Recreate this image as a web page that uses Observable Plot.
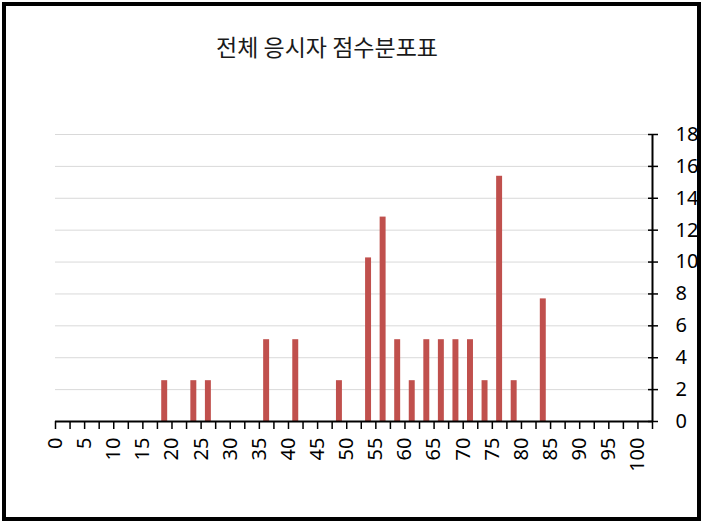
<!DOCTYPE html>
<html>
<head>
<meta charset="utf-8">
<script src="https://cdn.jsdelivr.net/npm/d3@7"></script>
<script src="https://cdn.jsdelivr.net/npm/@observablehq/plot@0.6"></script>
<style>
  html, body { margin: 0; padding: 0; background: #fff; }
  #wrap { position: relative; width: 703px; height: 524px; overflow: hidden; background: #fff; }
  #frame { position: absolute; left: 2px; top: 2px; width: 691px; height: 511px; border: 4px solid #000; }
  #title { position: absolute; left: 0; top: 35px; width: 654px; text-align: center;
           font-family: "Noto Sans CJK KR", sans-serif; font-size: 23px; line-height: 1; color: #1a1a1a; }
  #chart { position: absolute; left: 0; top: 0; }
</style>
</head>
<body>
<div id="wrap">
  <div id="frame"></div>
  <div id="title"></div>
  <div id="chart"></div>
</div>
<script>
const titleText = "전체 응시자 점수분포표";
// score bins (start of each 2.5-point bin) and percentage of examinees
const binStart = [17.5, 22.5, 25, 35, 40, 47.5, 52.5, 55, 57.5, 60, 62.5, 65, 67.5, 70, 72.5, 75, 77.5, 82.5];
const percent  = [2.56, 2.56, 2.56, 5.13, 5.13, 2.56, 10.26, 12.82, 5.13, 2.56, 5.13, 5.13, 5.13, 5.13, 2.56, 15.38, 2.56, 7.69];
const binWidth = 2.5;
const xDomain = [0, 102.5];
const yDomain = [0, 18];
const xTickValues = d3.range(0, 102.5 + 0.001, 2.5);
const xLabelValues = d3.range(0, 100 + 0.001, 5);
const yTickValues = d3.range(0, 18 + 0.001, 2);

const data = binStart.map((b, i) => ({start: b, end: b + binWidth, value: percent[i]}));

document.getElementById("title").textContent = titleText;

const font = "'Noto Sans', 'Open Sans', sans-serif";

const chart = Plot.plot({
  width: 703,
  height: 524,
  marginLeft: 55,
  marginRight: 51,
  marginTop: 134,
  marginBottom: 103,
  style: {fontFamily: font, fontSize: "20px", color: "#000", background: "transparent", overflow: "visible"},
  x: {domain: xDomain, axis: null, label: null},
  y: {domain: yDomain, axis: null, label: null},
  marks: [
    Plot.gridY(yTickValues.filter(d => d > 0), {stroke: "#d9d9d9", strokeOpacity: 1, strokeWidth: 1}),
    Plot.rectY(data, {x1: "start", x2: "end", y1: 0, y2: "value", insetLeft: 4.3, insetRight: 4.3, fill: "#C0504D"}),
    // x ticks
    Plot.axisX({ticks: xTickValues, tickSize: 8, tickFormat: () => "", label: null, stroke: "#000", strokeWidth: 1.5}),
    // x labels rotated
    Plot.text(xLabelValues, {x: d => d, y: 0, text: d => String(d), rotate: -90, textAnchor: "end", lineAnchor: "middle", dy: 16, fill: "#000", fontSize: 20}),
    // y ticks crossing the axis
    Plot.axisY({anchor: "right", ticks: yTickValues, tickSize: 10, dx: -5, tickFormat: () => "", label: null, stroke: "#000", strokeWidth: 1.5}),
    // y labels
    Plot.axisY({anchor: "right", ticks: yTickValues, tickSize: 0, tickPadding: 23, textAnchor: "start", label: null, fill: "#000", fontSize: 20}),
    Plot.ruleY([0], {stroke: "#000", strokeWidth: 2}),
    Plot.ruleX([xDomain[1]], {y1: yDomain[0], y2: yDomain[1], stroke: "#000", strokeWidth: 2})
  ]
});
document.getElementById("chart").appendChild(chart);
</script>
</body>
</html>
